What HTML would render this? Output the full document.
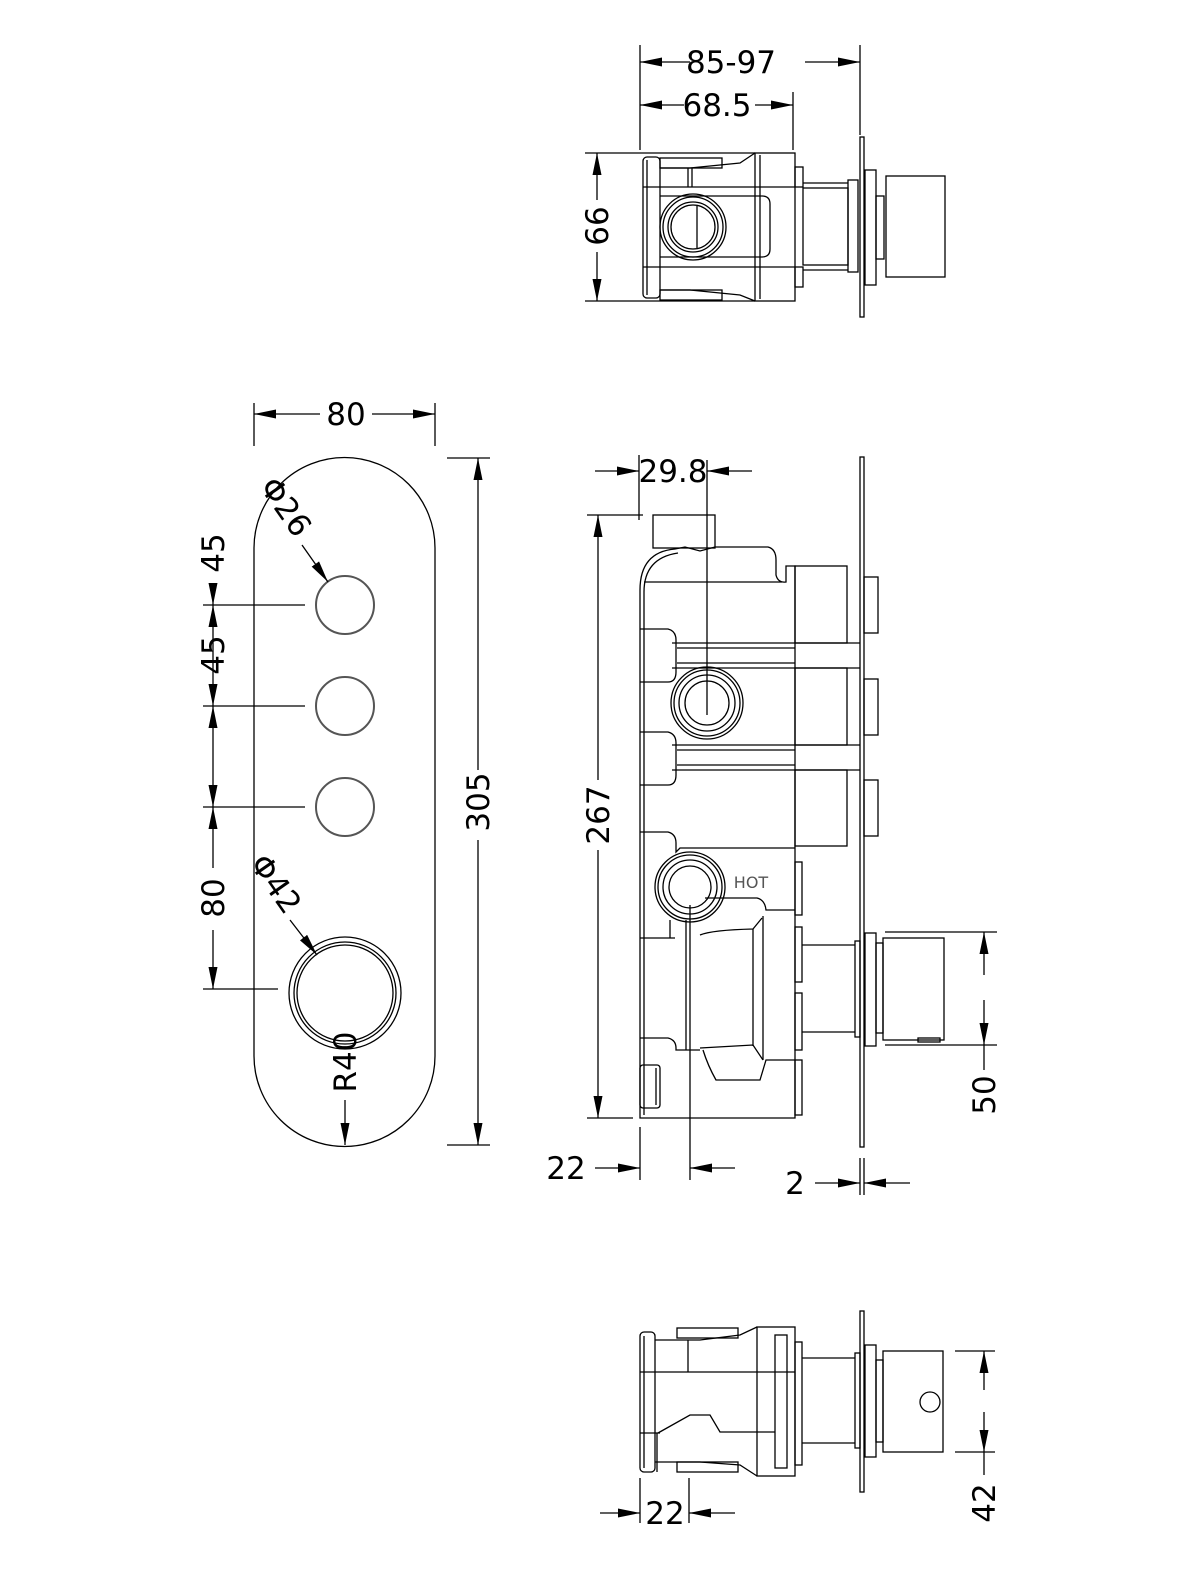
<!DOCTYPE html>
<html><head><meta charset="utf-8"><style>
html,body{margin:0;padding:0;background:#fff;}
svg{display:block;}
text{font-family:"DejaVu Sans","Liberation Sans",sans-serif;fill:#000;}
.d{font-size:31px;}
</style></head><body>
<svg width="1200" height="1570" viewBox="0 0 1200 1570" xmlns="http://www.w3.org/2000/svg">
<defs>
<marker id="a" markerUnits="userSpaceOnUse" markerWidth="24" markerHeight="10" refX="22" refY="4.5" orient="auto"><path d="M0,0 L22,4.5 L0,9 z" fill="#000"/></marker>
</defs>
<g fill="none" stroke="#000" stroke-width="1.3">

<!-- ============ TOP VIEW ============ -->
<line x1="640" y1="45" x2="640" y2="150"/>
<line x1="860" y1="45" x2="860" y2="135"/>
<line x1="793" y1="92" x2="793" y2="150"/>
<line x1="690" y1="62" x2="640" y2="62" marker-end="url(#a)"/>
<line x1="805" y1="62" x2="860" y2="62" marker-end="url(#a)"/>
<line x1="684" y1="105" x2="640" y2="105" marker-end="url(#a)"/>
<line x1="755" y1="105" x2="793" y2="105" marker-end="url(#a)"/>
<line x1="585" y1="153" x2="755" y2="153"/>
<line x1="585" y1="301" x2="755" y2="301"/>
<line x1="597" y1="200" x2="597" y2="153" marker-end="url(#a)"/>
<line x1="597" y1="252" x2="597" y2="301" marker-end="url(#a)"/>
<rect x="643" y="157" width="17" height="141" rx="4"/>
<line x1="647" y1="160" x2="647" y2="295"/>
<rect x="660" y="158" width="62" height="10"/>
<rect x="660" y="290" width="62" height="10"/>
<path d="M660,168 L690,168 L740,163 L755,153 M660,290 L690,290 L740,295 L755,301"/>
<line x1="688" y1="168" x2="688" y2="187"/><line x1="692" y1="168" x2="692" y2="187"/>
<rect x="755" y="153" width="40" height="148"/>
<line x1="760" y1="155" x2="760" y2="299"/>
<line x1="643" y1="187" x2="795" y2="187"/>
<line x1="643" y1="267" x2="795" y2="267"/>
<path d="M660,196 H762 Q770,196 770,204 V249 Q770,257 762,257 H660"/>
<circle cx="693" cy="227" r="33"/><circle cx="693" cy="227" r="30"/>
<circle cx="693" cy="227" r="25"/><circle cx="693" cy="227" r="22"/>
<line x1="697" y1="206" x2="697" y2="248"/>
<rect x="795" y="167" width="8" height="20"/>
<rect x="795" y="267" width="8" height="20"/>
<rect x="803" y="188" width="45" height="77"/>
<line x1="803" y1="183" x2="848" y2="183"/><line x1="803" y1="270" x2="848" y2="270"/>
<rect x="848" y="180" width="10" height="92"/>
<rect x="860" y="137" width="4" height="180"/>
<rect x="865" y="170" width="11" height="115"/>
<rect x="876" y="196" width="8" height="63"/>
<rect x="886" y="176" width="59" height="101"/>

<!-- ============ FRONT VIEW ============ -->
<line x1="254" y1="403" x2="254" y2="446"/>
<line x1="435" y1="403" x2="435" y2="446"/>
<line x1="320" y1="414" x2="254" y2="414" marker-end="url(#a)"/>
<line x1="372" y1="414" x2="435" y2="414" marker-end="url(#a)"/>
<path d="M254,548 A90.5,90.5 0 0 1 435,548 V1056 A90.5,90.5 0 0 1 254,1056 Z"/>
<line x1="447" y1="458" x2="490" y2="458"/>
<line x1="447" y1="1145" x2="490" y2="1145"/>
<line x1="478" y1="770" x2="478" y2="458" marker-end="url(#a)"/>
<line x1="478" y1="840" x2="478" y2="1145" marker-end="url(#a)"/>
<circle cx="345" cy="605" r="29" stroke="#555" stroke-width="2"/>
<circle cx="345" cy="706" r="29" stroke="#555" stroke-width="2"/>
<circle cx="345" cy="807" r="29" stroke="#555" stroke-width="2"/>
<circle cx="345" cy="993" r="56"/>
<circle cx="345" cy="993" r="51"/>
<circle cx="345" cy="993" r="48"/>
<line x1="203" y1="605" x2="305" y2="605"/>
<line x1="203" y1="706" x2="305" y2="706"/>
<line x1="203" y1="807" x2="305" y2="807"/>
<line x1="203" y1="989" x2="278" y2="989"/>
<line x1="213" y1="585" x2="213" y2="605" marker-end="url(#a)"/>
<line x1="213" y1="680" x2="213" y2="605" marker-end="url(#a)"/>
<line x1="213" y1="680" x2="213" y2="706" marker-end="url(#a)"/>
<line x1="213" y1="780" x2="213" y2="706" marker-end="url(#a)"/>
<line x1="213" y1="780" x2="213" y2="807" marker-end="url(#a)"/>
<line x1="213" y1="868" x2="213" y2="807" marker-end="url(#a)"/>
<line x1="213" y1="930" x2="213" y2="989" marker-end="url(#a)"/>
<line x1="302" y1="545" x2="328" y2="582" marker-end="url(#a)"/>
<line x1="290" y1="920" x2="317" y2="955" marker-end="url(#a)"/>
<line x1="345" y1="1100" x2="345" y2="1145" marker-end="url(#a)"/>

<!-- ============ SIDE VIEW ============ -->
<line x1="639" y1="455" x2="639" y2="520"/>
<line x1="707" y1="460" x2="707" y2="715"/>
<line x1="595" y1="471" x2="639" y2="471" marker-end="url(#a)"/>
<line x1="752" y1="471" x2="707" y2="471" marker-end="url(#a)"/>
<line x1="587" y1="515" x2="643" y2="515"/>
<line x1="587" y1="1118" x2="633" y2="1118"/>
<line x1="598" y1="780" x2="598" y2="515" marker-end="url(#a)"/>
<line x1="598" y1="850" x2="598" y2="1118" marker-end="url(#a)"/>
<rect x="860" y="457" width="4" height="690"/>
<rect x="653" y="515" width="62" height="33"/>
<path d="M640,1118 V590 Q640,552 675,549 L685,547 L700,551 L715,547 H768 Q776,549 776,560 V575 Q778,583 786,582 V566 H795 V1118 Z"/>
<path d="M644,1115 V592 Q644,558 678,553"/>
<line x1="644" y1="582" x2="782" y2="582"/>
<rect x="795" y="566" width="52" height="77"/>
<rect x="795" y="668" width="52" height="77"/>
<rect x="795" y="770" width="52" height="76"/>
<line x1="672" y1="643" x2="860" y2="643"/><line x1="677" y1="648" x2="795" y2="648"/>
<line x1="677" y1="663" x2="795" y2="663"/><line x1="672" y1="668" x2="860" y2="668"/>
<line x1="672" y1="745" x2="860" y2="745"/><line x1="677" y1="750" x2="795" y2="750"/>
<line x1="677" y1="765" x2="795" y2="765"/><line x1="672" y1="770" x2="860" y2="770"/>
<rect x="864" y="577" width="14" height="56"/>
<rect x="864" y="679" width="14" height="56"/>
<rect x="864" y="780" width="14" height="56"/>
<path d="M640,629 H668 Q676,631 676,640 V672 Q676,682 668,682 H640"/>
<path d="M640,732 H668 Q676,734 676,743 V775 Q676,785 668,785 H640"/>
<path d="M640,832 H668 Q676,834 676,843 V852 L680,848 H795"/>
<circle cx="707" cy="703" r="36"/><circle cx="707" cy="703" r="33"/>
<circle cx="707" cy="703" r="28"/><circle cx="707" cy="703" r="22"/>
<circle cx="690" cy="887" r="35"/><circle cx="690" cy="887" r="32"/>
<circle cx="690" cy="887" r="27"/><circle cx="690" cy="887" r="21"/>
<line x1="690" y1="905" x2="690" y2="1180"/>
<line x1="686" y1="920" x2="686" y2="1050"/>
<line x1="640" y1="938" x2="675" y2="938"/>
<path d="M670,938 V920"/>
<path d="M705,898 H757 Q765,900 766,910 H795"/>
<path d="M700,935 Q712,930 753,929 L762,918"/>
<line x1="753" y1="929" x2="753" y2="1046"/>
<line x1="763" y1="916" x2="763" y2="1060"/>
<path d="M700,1048 L753,1045 L763,1060"/>
<path d="M703,1050 Q708,1066 716,1080 H760 L766,1060 H795"/>
<path d="M640,1038 H668 Q676,1040 676,1048 V1050 L700,1050"/>
<rect x="640" y="1065" width="20" height="43" rx="3"/>
<line x1="656" y1="1068" x2="656" y2="1105"/>
<rect x="795" y="862" width="7" height="53"/>
<rect x="795" y="927" width="7" height="55"/>
<rect x="795" y="993" width="7" height="57"/>
<rect x="795" y="1060" width="7" height="55"/>
<line x1="802" y1="945" x2="855" y2="945"/>
<line x1="802" y1="1032" x2="855" y2="1032"/>
<rect x="855" y="941" width="5" height="96"/>
<rect x="865" y="933" width="11" height="113"/>
<rect x="876" y="943" width="7" height="90"/>
<rect x="883" y="938" width="61" height="102"/>
<rect x="918" y="1038" width="22" height="4"/>
<line x1="885" y1="932" x2="997" y2="932"/>
<line x1="885" y1="1045" x2="997" y2="1045"/>
<line x1="984" y1="975" x2="984" y2="932" marker-end="url(#a)"/>
<line x1="984" y1="1000" x2="984" y2="1045" marker-end="url(#a)"/>
<line x1="984" y1="1045" x2="984" y2="1070"/>
<line x1="640" y1="1127" x2="640" y2="1180"/>
<line x1="595" y1="1168" x2="640" y2="1168" marker-end="url(#a)"/>
<line x1="735" y1="1168" x2="690" y2="1168" marker-end="url(#a)"/>
<line x1="860" y1="1158" x2="860" y2="1195"/>
<line x1="864" y1="1158" x2="864" y2="1195"/>
<line x1="815" y1="1183" x2="860" y2="1183" marker-end="url(#a)"/>
<line x1="910" y1="1183" x2="864" y2="1183" marker-end="url(#a)"/>

<!-- ============ BOTTOM VIEW ============ -->
<rect x="640" y="1332" width="15" height="140" rx="4"/>
<line x1="644" y1="1336" x2="644" y2="1468"/>
<rect x="677" y="1328" width="61" height="10"/>
<rect x="677" y="1462" width="61" height="10"/>
<path d="M655,1340 H700 L740,1335 L757,1327 M655,1462 H700 L740,1465 L757,1476"/>
<line x1="688" y1="1340" x2="688" y2="1372"/>
<rect x="757" y="1327" width="38" height="149"/>
<rect x="775" y="1335" width="12" height="133"/>
<line x1="640" y1="1372" x2="795" y2="1372"/>
<line x1="640" y1="1433" x2="660" y2="1433"/>
<path d="M658,1433 L690,1415 L710,1415 L720,1432 H775"/>
<line x1="657" y1="1433" x2="657" y2="1472"/>
<rect x="795" y="1342" width="7" height="123"/>
<line x1="802" y1="1358" x2="855" y2="1358"/>
<line x1="802" y1="1443" x2="855" y2="1443"/>
<rect x="855" y="1353" width="5" height="95"/>
<rect x="860" y="1311" width="4" height="181"/>
<rect x="865" y="1345" width="11" height="112"/>
<rect x="876" y="1360" width="7" height="82"/>
<rect x="883" y="1351" width="60" height="101"/>
<circle cx="930" cy="1402" r="10"/>
<line x1="955" y1="1351" x2="995" y2="1351"/>
<line x1="955" y1="1452" x2="995" y2="1452"/>
<line x1="984" y1="1390" x2="984" y2="1351" marker-end="url(#a)"/>
<line x1="984" y1="1412" x2="984" y2="1452" marker-end="url(#a)"/>
<line x1="984" y1="1452" x2="984" y2="1475"/>
<line x1="640" y1="1478" x2="640" y2="1523"/>
<line x1="689" y1="1478" x2="689" y2="1523"/>
<line x1="600" y1="1513" x2="640" y2="1513" marker-end="url(#a)"/>
<line x1="735" y1="1513" x2="689" y2="1513" marker-end="url(#a)"/>
</g>

<!-- TEXT -->
<text class="d" x="731" y="73" text-anchor="middle">85-97</text>
<text class="d" x="717" y="116" text-anchor="middle">68.5</text>
<text class="d" text-anchor="middle" transform="translate(608,226) rotate(-90)">66</text>
<text class="d" x="346" y="425" text-anchor="middle">80</text>
<text class="d" text-anchor="middle" transform="translate(489,802) rotate(-90)">305</text>
<text class="d" text-anchor="middle" transform="translate(224,553) rotate(-90)">45</text>
<text class="d" text-anchor="middle" transform="translate(224,655) rotate(-90)">45</text>
<text class="d" text-anchor="middle" transform="translate(224,898) rotate(-90)">80</text>
<text class="d" text-anchor="middle" transform="translate(277,513) rotate(55)">Φ26</text>
<text class="d" text-anchor="middle" transform="translate(267,890) rotate(55)">Φ42</text>
<text class="d" text-anchor="middle" transform="translate(356,1062) rotate(-90)">R40</text>
<text class="d" x="673" y="482" text-anchor="middle">29.8</text>
<text class="d" text-anchor="middle" transform="translate(609,815) rotate(-90)">267</text>
<text x="751" y="888" text-anchor="middle" style="font-size:16px;fill:#555">HOT</text>
<text class="d" text-anchor="middle" transform="translate(995,1095) rotate(-90)">50</text>
<text class="d" x="566" y="1179" text-anchor="middle">22</text>
<text class="d" x="795" y="1194" text-anchor="middle">2</text>
<text class="d" text-anchor="middle" transform="translate(995,1503) rotate(-90)">42</text>
<text class="d" x="665" y="1524" text-anchor="middle">22</text>
</svg>
</body></html>
